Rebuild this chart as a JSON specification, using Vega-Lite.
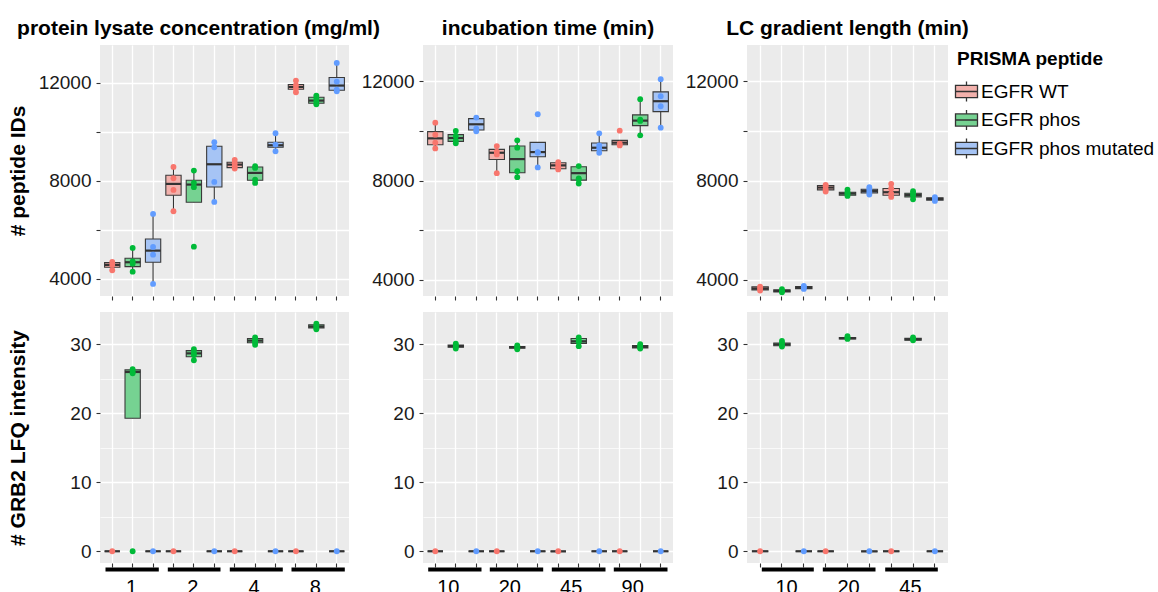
{
  "$schema": "https://vega.github.io/schema/vega-lite/v6.json",
  "padding": {"left": 7, "top": 18, "right": 0, "bottom": 0},
  "background": "white",
  "datasets": {
    "boxes": [
      {"panel":"conc","metric":"ids","group":"1","peptide":"EGFR WT","lower":4340,"q1":4466,"median":4560,"q3":4654,"upper":4683,"pts":[4683,4560,4343]},
      {"panel":"conc","metric":"ids","group":"1","peptide":"EGFR phos","lower":4286,"q1":4491,"median":4670,"q3":4834,"upper":5255,"pts":[5255,4700,4613,4286]},
      {"panel":"conc","metric":"ids","group":"1","peptide":"EGFR phos mutated","lower":3783,"q1":4670,"median":5145,"q3":5623,"upper":6645,"pts":[6645,5296,4981,3783]},
      {"panel":"conc","metric":"ids","group":"2","peptide":"EGFR WT","lower":6755,"q1":7410,"median":7872,"q3":8227,"upper":8566,"pts":[8566,8103,7626,6755]},
      {"panel":"conc","metric":"ids","group":"2","peptide":"EGFR phos","lower":7124,"q1":7124,"median":7845,"q3":8023,"upper":8415,"pts":[8415,7913,7737,5308]},
      {"panel":"conc","metric":"ids","group":"2","peptide":"EGFR phos mutated","lower":7135,"q1":7748,"median":8675,"q3":9411,"upper":9575,"pts":[9575,9370,7953,7135]},
      {"panel":"conc","metric":"ids","group":"4","peptide":"EGFR WT","lower":8498,"q1":8539,"median":8661,"q3":8757,"upper":8852,"pts":[8852,8716,8593,8498]},
      {"panel":"conc","metric":"ids","group":"4","peptide":"EGFR phos","lower":7912,"q1":8021,"median":8321,"q3":8566,"upper":8593,"pts":[8593,8525,8048,7912]},
      {"panel":"conc","metric":"ids","group":"4","peptide":"EGFR phos mutated","lower":9207,"q1":9370,"median":9452,"q3":9575,"upper":9943,"pts":[9943,9480,9207]},
      {"panel":"conc","metric":"ids","group":"8","peptide":"EGFR WT","lower":11619,"q1":11742,"median":11837,"q3":11933,"upper":12096,"pts":[12096,11905,11769,11619]},
      {"panel":"conc","metric":"ids","group":"8","peptide":"EGFR phos","lower":11128,"q1":11169,"median":11278,"q3":11415,"upper":11483,"pts":[11483,11387,11251,11128]},
      {"panel":"conc","metric":"ids","group":"8","peptide":"EGFR phos mutated","lower":11660,"q1":11701,"median":11892,"q3":12219,"upper":12819,"pts":[12819,12055,11728,11660]},

      {"panel":"time","metric":"ids","group":"10","peptide":"EGFR WT","lower":9301,"q1":9450,"median":9706,"q3":9976,"upper":10340,"pts":[10340,9855,9531,9301]},
      {"panel":"time","metric":"ids","group":"10","peptide":"EGFR phos","lower":9504,"q1":9585,"median":9720,"q3":9855,"upper":10003,"pts":[10003,9800,9612,9504]},
      {"panel":"time","metric":"ids","group":"10","peptide":"EGFR phos mutated","lower":9990,"q1":10044,"median":10273,"q3":10502,"upper":10543,"pts":[10543,10098,9990]},
      {"panel":"time","metric":"ids","group":"20","peptide":"EGFR WT","lower":8303,"q1":8856,"median":9126,"q3":9261,"upper":9396,"pts":[9396,9167,9059,8303]},
      {"panel":"time","metric":"ids","group":"20","peptide":"EGFR phos","lower":8141,"q1":8317,"median":8870,"q3":9396,"upper":9625,"pts":[9625,9329,8384,8141]},
      {"panel":"time","metric":"ids","group":"20","peptide":"EGFR phos mutated","lower":8533,"q1":8964,"median":9153,"q3":9544,"upper":9544,"pts":[10678,9153,9126,8533]},
      {"panel":"time","metric":"ids","group":"45","peptide":"EGFR WT","lower":8452,"q1":8479,"median":8614,"q3":8722,"upper":8748,"pts":[8748,8654,8546,8452]},
      {"panel":"time","metric":"ids","group":"45","peptide":"EGFR phos","lower":7885,"q1":8020,"median":8303,"q3":8560,"upper":8587,"pts":[8587,8088,8047,7885]},
      {"panel":"time","metric":"ids","group":"45","peptide":"EGFR phos mutated","lower":9126,"q1":9207,"median":9328,"q3":9517,"upper":9909,"pts":[9909,9423,9301,9126]},
      {"panel":"time","metric":"ids","group":"90","peptide":"EGFR WT","lower":9423,"q1":9450,"median":9531,"q3":9625,"upper":9625,"pts":[10017,9490,9423]},
      {"panel":"time","metric":"ids","group":"90","peptide":"EGFR phos","lower":9828,"q1":10219,"median":10421,"q3":10651,"upper":11285,"pts":[11285,10462,10408,9828]},
      {"panel":"time","metric":"ids","group":"90","peptide":"EGFR phos mutated","lower":10138,"q1":10785,"median":11204,"q3":11581,"upper":12094,"pts":[12094,11406,11001,10138]},

      {"panel":"lc","metric":"ids","group":"10","peptide":"EGFR WT","lower":3568,"q1":3595,"median":3649,"q3":3717,"upper":3730,"pts":[3730,3649,3568]},
      {"panel":"lc","metric":"ids","group":"10","peptide":"EGFR phos","lower":3500,"q1":3514,"median":3555,"q3":3595,"upper":3622,"pts":[3622,3555,3500]},
      {"panel":"lc","metric":"ids","group":"10","peptide":"EGFR phos mutated","lower":3635,"q1":3649,"median":3690,"q3":3730,"upper":3757,"pts":[3757,3703,3635]},
      {"panel":"lc","metric":"ids","group":"20","peptide":"EGFR WT","lower":7561,"q1":7629,"median":7723,"q3":7804,"upper":7831,"pts":[7831,7764,7642,7561]},
      {"panel":"lc","metric":"ids","group":"20","peptide":"EGFR phos","lower":7386,"q1":7413,"median":7480,"q3":7534,"upper":7642,"pts":[7642,7534,7480,7386]},
      {"panel":"lc","metric":"ids","group":"20","peptide":"EGFR phos mutated","lower":7440,"q1":7507,"median":7588,"q3":7656,"upper":7737,"pts":[7737,7642,7548,7440]},
      {"panel":"lc","metric":"ids","group":"45","peptide":"EGFR WT","lower":7345,"q1":7413,"median":7534,"q3":7683,"upper":7683,"pts":[7872,7683,7480,7345]},
      {"panel":"lc","metric":"ids","group":"45","peptide":"EGFR phos","lower":7251,"q1":7345,"median":7426,"q3":7494,"upper":7575,"pts":[7575,7480,7400,7251]},
      {"panel":"lc","metric":"ids","group":"45","peptide":"EGFR phos mutated","lower":7184,"q1":7211,"median":7264,"q3":7305,"upper":7332,"pts":[7332,7264,7184]},

      {"panel":"conc","metric":"lfq","group":"1","peptide":"EGFR WT","lower":0,"q1":0,"median":0,"q3":0,"upper":0,"pts":[0]},
      {"panel":"conc","metric":"lfq","group":"1","peptide":"EGFR phos","lower":19.3,"q1":19.3,"median":26.0,"q3":26.3,"upper":26.4,"pts":[26.4,26.0,25.8,0]},
      {"panel":"conc","metric":"lfq","group":"1","peptide":"EGFR phos mutated","lower":0,"q1":0,"median":0,"q3":0,"upper":0,"pts":[0]},
      {"panel":"conc","metric":"lfq","group":"2","peptide":"EGFR WT","lower":0,"q1":0,"median":0,"q3":0,"upper":0,"pts":[0]},
      {"panel":"conc","metric":"lfq","group":"2","peptide":"EGFR phos","lower":27.7,"q1":28.2,"median":28.7,"q3":29.1,"upper":29.3,"pts":[29.3,28.8,28.45,27.7]},
      {"panel":"conc","metric":"lfq","group":"2","peptide":"EGFR phos mutated","lower":0,"q1":0,"median":0,"q3":0,"upper":0,"pts":[0]},
      {"panel":"conc","metric":"lfq","group":"4","peptide":"EGFR WT","lower":0,"q1":0,"median":0,"q3":0,"upper":0,"pts":[0]},
      {"panel":"conc","metric":"lfq","group":"4","peptide":"EGFR phos","lower":29.95,"q1":30.25,"median":30.55,"q3":30.85,"upper":31.0,"pts":[31.0,30.6,30.3,29.95]},
      {"panel":"conc","metric":"lfq","group":"4","peptide":"EGFR phos mutated","lower":0,"q1":0,"median":0,"q3":0,"upper":0,"pts":[0]},
      {"panel":"conc","metric":"lfq","group":"8","peptide":"EGFR WT","lower":0,"q1":0,"median":0,"q3":0,"upper":0,"pts":[0]},
      {"panel":"conc","metric":"lfq","group":"8","peptide":"EGFR phos","lower":32.2,"q1":32.4,"median":32.6,"q3":32.85,"upper":33.0,"pts":[33.0,32.7,32.45,32.2]},
      {"panel":"conc","metric":"lfq","group":"8","peptide":"EGFR phos mutated","lower":0,"q1":0,"median":0,"q3":0,"upper":0,"pts":[0]},

      {"panel":"time","metric":"lfq","group":"10","peptide":"EGFR WT","lower":0,"q1":0,"median":0,"q3":0,"upper":0,"pts":[0]},
      {"panel":"time","metric":"lfq","group":"10","peptide":"EGFR phos","lower":29.4,"q1":29.6,"median":29.75,"q3":29.9,"upper":30.1,"pts":[30.1,29.9,29.65,29.4]},
      {"panel":"time","metric":"lfq","group":"10","peptide":"EGFR phos mutated","lower":0,"q1":0,"median":0,"q3":0,"upper":0,"pts":[0]},
      {"panel":"time","metric":"lfq","group":"20","peptide":"EGFR WT","lower":0,"q1":0,"median":0,"q3":0,"upper":0,"pts":[0]},
      {"panel":"time","metric":"lfq","group":"20","peptide":"EGFR phos","lower":29.3,"q1":29.45,"median":29.6,"q3":29.7,"upper":29.85,"pts":[29.85,29.65,29.5,29.3]},
      {"panel":"time","metric":"lfq","group":"20","peptide":"EGFR phos mutated","lower":0,"q1":0,"median":0,"q3":0,"upper":0,"pts":[0]},
      {"panel":"time","metric":"lfq","group":"45","peptide":"EGFR WT","lower":0,"q1":0,"median":0,"q3":0,"upper":0,"pts":[0]},
      {"panel":"time","metric":"lfq","group":"45","peptide":"EGFR phos","lower":29.75,"q1":30.15,"median":30.45,"q3":30.85,"upper":31.0,"pts":[31.0,30.6,30.4,29.75]},
      {"panel":"time","metric":"lfq","group":"45","peptide":"EGFR phos mutated","lower":0,"q1":0,"median":0,"q3":0,"upper":0,"pts":[0]},
      {"panel":"time","metric":"lfq","group":"90","peptide":"EGFR WT","lower":0,"q1":0,"median":0,"q3":0,"upper":0,"pts":[0]},
      {"panel":"time","metric":"lfq","group":"90","peptide":"EGFR phos","lower":29.4,"q1":29.5,"median":29.65,"q3":29.85,"upper":30.05,"pts":[30.05,29.8,29.55,29.4]},
      {"panel":"time","metric":"lfq","group":"90","peptide":"EGFR phos mutated","lower":0,"q1":0,"median":0,"q3":0,"upper":0,"pts":[0]},

      {"panel":"lc","metric":"lfq","group":"10","peptide":"EGFR WT","lower":0,"q1":0,"median":0,"q3":0,"upper":0,"pts":[0]},
      {"panel":"lc","metric":"lfq","group":"10","peptide":"EGFR phos","lower":29.7,"q1":29.8,"median":30.0,"q3":30.2,"upper":30.5,"pts":[30.5,30.2,29.9,29.7]},
      {"panel":"lc","metric":"lfq","group":"10","peptide":"EGFR phos mutated","lower":0,"q1":0,"median":0,"q3":0,"upper":0,"pts":[0]},
      {"panel":"lc","metric":"lfq","group":"20","peptide":"EGFR WT","lower":0,"q1":0,"median":0,"q3":0,"upper":0,"pts":[0]},
      {"panel":"lc","metric":"lfq","group":"20","peptide":"EGFR phos","lower":30.8,"q1":30.8,"median":30.9,"q3":31.0,"upper":31.2,"pts":[31.2,30.95,30.8]},
      {"panel":"lc","metric":"lfq","group":"20","peptide":"EGFR phos mutated","lower":0,"q1":0,"median":0,"q3":0,"upper":0,"pts":[0]},
      {"panel":"lc","metric":"lfq","group":"45","peptide":"EGFR WT","lower":0,"q1":0,"median":0,"q3":0,"upper":0,"pts":[0]},
      {"panel":"lc","metric":"lfq","group":"45","peptide":"EGFR phos","lower":30.6,"q1":30.6,"median":30.75,"q3":30.9,"upper":31.0,"pts":[31.0,30.8,30.6]},
      {"panel":"lc","metric":"lfq","group":"45","peptide":"EGFR phos mutated","lower":0,"q1":0,"median":0,"q3":0,"upper":0,"pts":[0]}
    ]
  },
  "columns": 3,
  "bounds": "flush",
  "spacing": {"row": 16, "column": 74},
  "concat": [
    {
      "width": 249, "height": 251,
      "title": {"text": "protein lysate concentration (mg/ml)", "dx": -26},
      "data": {"name": "boxes"},
      "transform": [{"filter": "datum.panel === 'conc' && datum.metric === 'ids'"}, {"calculate": "datum.group + ' ' + datum.peptide", "as": "slot"}],
      "layer": [
        {"mark": {"type": "rule", "color": "#333333", "strokeWidth": 1.1},
         "encoding": {
           "x": {"field": "slot", "type": "nominal", "title": null, "scale": {"type": "band", "paddingInner": 0.25, "paddingOuter": 0.225}, "axis": {"labels": false, "ticks": true, "domain": false, "grid": true, "bandPosition": 0.5, "gridWidth": 1.3}},
           "y": {"field": "lower", "type": "quantitative", "title": "# peptide IDs", "scale": {"domain": [3290, 13550], "nice": false, "zero": false},
                 "axis": {"values": [4000,5000,6000,7000,8000,9000,10000,11000,12000,13000], "format": "d", "titlePadding": 10,
                          "labelExpr": "datum.value % 4000 === 0 ? datum.label : ''",
                          "tickOpacity": {"condition": {"test": "datum.value % 2000 === 0", "value": 1}, "value": 0},
                          "gridWidth": {"condition": {"test": "datum.value % 2000 === 0", "value": 1.3}, "value": 0.7}}},
           "y2": {"field": "upper"}}},
        {"mark": {"type": "bar", "stroke": "#3a3a3a", "strokeWidth": 1.1, "strokeOpacity": 1},
         "encoding": {
           "x": {"field": "slot", "type": "nominal", "title": null, "scale": {"type": "band", "paddingInner": 0.25, "paddingOuter": 0.225}},
           "y": {"field": "q1", "type": "quantitative", "title": "# peptide IDs"}, "y2": {"field": "q3"},
           "fill": {"field": "peptide", "type": "nominal", "scale": {"domain": ["EGFR WT","EGFR phos","EGFR phos mutated"], "range": ["#F2B1AC","#76D292","#A6C4F5"]},
                    "legend": {"title": "PRISMA peptide", "orient": "none", "legendX": 857, "legendY": 5, "symbolType": "M-0.8,-0.44H0.8V0.44H-0.8Z M-0.8,0H0.8 M0,-0.44V-0.73 M0,0.44V0.73", "symbolSize": 756, "symbolStrokeColor": "#333333", "symbolStrokeWidth": 1.3, "symbolOpacity": 1, "symbolOffset": -5, "labelOffset": 0, "labelLimit": 400}}}},
        {"mark": {"type": "tick", "color": "#333333", "thickness": 2.2, "size": 15.3, "opacity": 1},
         "encoding": {
           "x": {"field": "slot", "type": "nominal", "title": null, "scale": {"type": "band", "paddingInner": 0.25, "paddingOuter": 0.225}},
           "y": {"field": "median", "type": "quantitative", "title": "# peptide IDs"}}},
        {"transform": [{"flatten": ["pts"], "as": ["value"]}],
         "mark": {"type": "circle", "size": 34, "opacity": 1},
         "encoding": {
           "x": {"field": "slot", "type": "nominal", "title": null, "scale": {"type": "band", "paddingInner": 0.25, "paddingOuter": 0.225}},
           "y": {"field": "value", "type": "quantitative", "title": "# peptide IDs"},
           "color": {"field": "peptide", "type": "nominal", "scale": {"domain": ["EGFR WT","EGFR phos","EGFR phos mutated"], "range": ["#F8766D","#00BA38","#619CFF"]},
                     "legend": {"title": "PRISMA peptide", "orient": "none", "legendX": 857, "legendY": 5, "symbolType": "M-0.8,-0.44H0.8V0.44H-0.8Z M-0.8,0H0.8 M0,-0.44V-0.73 M0,0.44V0.73", "symbolSize": 756, "symbolStrokeColor": "#333333", "symbolStrokeWidth": 1.3, "symbolOpacity": 1, "symbolOffset": -5, "labelOffset": 0, "labelLimit": 400}}}}
      ]
    },
    {
      "width": 250, "height": 251,
      "title": {"text": "incubation time (min)"},
      "data": {"name": "boxes"},
      "transform": [{"filter": "datum.panel === 'time' && datum.metric === 'ids'"}, {"calculate": "datum.group + ' ' + datum.peptide", "as": "slot"}],
      "layer": [
        {"mark": {"type": "rule", "color": "#333333", "strokeWidth": 1.1},
         "encoding": {
           "x": {"field": "slot", "type": "nominal", "title": null, "scale": {"type": "band", "paddingInner": 0.25, "paddingOuter": 0.225}, "axis": {"labels": false, "ticks": true, "domain": false, "grid": true, "bandPosition": 0.5, "gridWidth": 1.3}},
           "y": {"field": "lower", "type": "quantitative", "title": null, "scale": {"domain": [3350, 13470], "nice": false, "zero": false},
                 "axis": {"values": [4000,5000,6000,7000,8000,9000,10000,11000,12000,13000], "format": "d",
                          "labelExpr": "datum.value % 4000 === 0 ? datum.label : ''",
                          "tickOpacity": {"condition": {"test": "datum.value % 2000 === 0", "value": 1}, "value": 0},
                          "gridWidth": {"condition": {"test": "datum.value % 2000 === 0", "value": 1.3}, "value": 0.7}}},
           "y2": {"field": "upper"}}},
        {"mark": {"type": "bar", "stroke": "#3a3a3a", "strokeWidth": 1.1, "strokeOpacity": 1},
         "encoding": {
           "x": {"field": "slot", "type": "nominal", "title": null, "scale": {"type": "band", "paddingInner": 0.25, "paddingOuter": 0.225}},
           "y": {"field": "q1", "type": "quantitative", "title": null}, "y2": {"field": "q3"},
           "fill": {"field": "peptide", "type": "nominal", "scale": {"domain": ["EGFR WT","EGFR phos","EGFR phos mutated"], "range": ["#F2B1AC","#76D292","#A6C4F5"]},
                    "legend": {"title": "PRISMA peptide", "orient": "none", "legendX": 857, "legendY": 5, "symbolType": "M-0.8,-0.44H0.8V0.44H-0.8Z M-0.8,0H0.8 M0,-0.44V-0.73 M0,0.44V0.73", "symbolSize": 756, "symbolStrokeColor": "#333333", "symbolStrokeWidth": 1.3, "symbolOpacity": 1, "symbolOffset": -5, "labelOffset": 0, "labelLimit": 400}}}},
        {"mark": {"type": "tick", "color": "#333333", "thickness": 2.2, "size": 15.4, "opacity": 1},
         "encoding": {
           "x": {"field": "slot", "type": "nominal", "title": null, "scale": {"type": "band", "paddingInner": 0.25, "paddingOuter": 0.225}},
           "y": {"field": "median", "type": "quantitative", "title": null}}},
        {"transform": [{"flatten": ["pts"], "as": ["value"]}],
         "mark": {"type": "circle", "size": 34, "opacity": 1},
         "encoding": {
           "x": {"field": "slot", "type": "nominal", "title": null, "scale": {"type": "band", "paddingInner": 0.25, "paddingOuter": 0.225}},
           "y": {"field": "value", "type": "quantitative", "title": null},
           "color": {"field": "peptide", "type": "nominal", "scale": {"domain": ["EGFR WT","EGFR phos","EGFR phos mutated"], "range": ["#F8766D","#00BA38","#619CFF"]},
                     "legend": {"title": "PRISMA peptide", "orient": "none", "legendX": 857, "legendY": 5, "symbolType": "M-0.8,-0.44H0.8V0.44H-0.8Z M-0.8,0H0.8 M0,-0.44V-0.73 M0,0.44V0.73", "symbolSize": 756, "symbolStrokeColor": "#333333", "symbolStrokeWidth": 1.3, "symbolOpacity": 1, "symbolOffset": -5, "labelOffset": 0, "labelLimit": 400}}}}
      ]
    },
    {
      "width": 201, "height": 251,
      "title": {"text": "LC gradient length (min)"},
      "data": {"name": "boxes"},
      "transform": [{"filter": "datum.panel === 'lc' && datum.metric === 'ids'"}, {"calculate": "datum.group + ' ' + datum.peptide", "as": "slot"}],
      "layer": [
        {"mark": {"type": "rule", "color": "#333333", "strokeWidth": 1.1},
         "encoding": {
           "x": {"field": "slot", "type": "nominal", "title": null, "scale": {"type": "band", "paddingInner": 0.25, "paddingOuter": 0.225}, "axis": {"labels": false, "ticks": true, "domain": false, "grid": true, "bandPosition": 0.5, "gridWidth": 1.3}},
           "y": {"field": "lower", "type": "quantitative", "title": null, "scale": {"domain": [3350, 13470], "nice": false, "zero": false},
                 "axis": {"values": [4000,5000,6000,7000,8000,9000,10000,11000,12000,13000], "format": "d",
                          "labelExpr": "datum.value % 4000 === 0 ? datum.label : ''",
                          "tickOpacity": {"condition": {"test": "datum.value % 2000 === 0", "value": 1}, "value": 0},
                          "gridWidth": {"condition": {"test": "datum.value % 2000 === 0", "value": 1.3}, "value": 0.7}}},
           "y2": {"field": "upper"}}},
        {"mark": {"type": "bar", "stroke": "#3a3a3a", "strokeWidth": 1.1, "strokeOpacity": 1},
         "encoding": {
           "x": {"field": "slot", "type": "nominal", "title": null, "scale": {"type": "band", "paddingInner": 0.25, "paddingOuter": 0.225}},
           "y": {"field": "q1", "type": "quantitative", "title": null}, "y2": {"field": "q3"},
           "fill": {"field": "peptide", "type": "nominal", "scale": {"domain": ["EGFR WT","EGFR phos","EGFR phos mutated"], "range": ["#F2B1AC","#76D292","#A6C4F5"]},
                    "legend": {"title": "PRISMA peptide", "orient": "none", "legendX": 857, "legendY": 5, "symbolType": "M-0.8,-0.44H0.8V0.44H-0.8Z M-0.8,0H0.8 M0,-0.44V-0.73 M0,0.44V0.73", "symbolSize": 756, "symbolStrokeColor": "#333333", "symbolStrokeWidth": 1.3, "symbolOpacity": 1, "symbolOffset": -5, "labelOffset": 0, "labelLimit": 400}}}},
        {"mark": {"type": "tick", "color": "#333333", "thickness": 2.2, "size": 16.4, "opacity": 1},
         "encoding": {
           "x": {"field": "slot", "type": "nominal", "title": null, "scale": {"type": "band", "paddingInner": 0.25, "paddingOuter": 0.225}},
           "y": {"field": "median", "type": "quantitative", "title": null}}},
        {"transform": [{"flatten": ["pts"], "as": ["value"]}],
         "mark": {"type": "circle", "size": 34, "opacity": 1},
         "encoding": {
           "x": {"field": "slot", "type": "nominal", "title": null, "scale": {"type": "band", "paddingInner": 0.25, "paddingOuter": 0.225}},
           "y": {"field": "value", "type": "quantitative", "title": null},
           "color": {"field": "peptide", "type": "nominal", "scale": {"domain": ["EGFR WT","EGFR phos","EGFR phos mutated"], "range": ["#F8766D","#00BA38","#619CFF"]},
                     "legend": {"title": "PRISMA peptide", "orient": "none", "legendX": 857, "legendY": 5, "symbolType": "M-0.8,-0.44H0.8V0.44H-0.8Z M-0.8,0H0.8 M0,-0.44V-0.73 M0,0.44V0.73", "symbolSize": 756, "symbolStrokeColor": "#333333", "symbolStrokeWidth": 1.3, "symbolOpacity": 1, "symbolOffset": -5, "labelOffset": 0, "labelLimit": 400}}}}
      ]
    },
    {
      "width": 249, "height": 251,
      "data": {"name": "boxes"},
      "transform": [{"filter": "datum.panel === 'conc' && datum.metric === 'lfq'"}, {"calculate": "datum.group + ' ' + datum.peptide", "as": "slot"}],
      "layer": [
        {"layer": [
          {"mark": {"type": "rule", "color": "#333333", "strokeWidth": 1.1},
           "encoding": {
             "x": {"field": "slot", "type": "nominal", "title": null, "scale": {"type": "band", "paddingInner": 0.25, "paddingOuter": 0.225}, "axis": {"labels": false, "ticks": true, "domain": false, "grid": true, "bandPosition": 0.5, "gridWidth": 1.3}},
             "y": {"field": "lower", "type": "quantitative", "title": "# GRB2 LFQ intensity", "scale": {"domain": [-1.7, 34.7], "nice": false, "zero": false},
                   "axis": {"values": [0,5,10,15,20,25,30], "titlePadding": 41.7,
                            "labelExpr": "datum.value % 10 === 0 ? datum.label : ''",
                            "tickOpacity": {"condition": {"test": "datum.value % 10 === 0", "value": 1}, "value": 0},
                            "gridWidth": {"condition": {"test": "datum.value % 10 === 0", "value": 1.3}, "value": 0.7}}},
             "y2": {"field": "upper"}}},
          {"mark": {"type": "bar", "stroke": "#3a3a3a", "strokeWidth": 1.1, "strokeOpacity": 1},
           "encoding": {
             "x": {"field": "slot", "type": "nominal", "title": null, "scale": {"type": "band", "paddingInner": 0.25, "paddingOuter": 0.225}},
             "y": {"field": "q1", "type": "quantitative", "title": "# GRB2 LFQ intensity"}, "y2": {"field": "q3"},
             "fill": {"field": "peptide", "type": "nominal", "scale": {"domain": ["EGFR WT","EGFR phos","EGFR phos mutated"], "range": ["#F2B1AC","#76D292","#A6C4F5"]},
                      "legend": {"title": "PRISMA peptide", "orient": "none", "legendX": 857, "legendY": 5, "symbolType": "M-0.8,-0.44H0.8V0.44H-0.8Z M-0.8,0H0.8 M0,-0.44V-0.73 M0,0.44V0.73", "symbolSize": 756, "symbolStrokeColor": "#333333", "symbolStrokeWidth": 1.3, "symbolOpacity": 1, "symbolOffset": -5, "labelOffset": 0, "labelLimit": 400}}}},
          {"mark": {"type": "tick", "color": "#333333", "thickness": 2.2, "size": 15.3, "opacity": 1},
           "encoding": {
             "x": {"field": "slot", "type": "nominal", "title": null, "scale": {"type": "band", "paddingInner": 0.25, "paddingOuter": 0.225}},
             "y": {"field": "median", "type": "quantitative", "title": "# GRB2 LFQ intensity"}}},
          {"transform": [{"flatten": ["pts"], "as": ["value"]}],
           "mark": {"type": "circle", "size": 34, "opacity": 1},
           "encoding": {
             "x": {"field": "slot", "type": "nominal", "title": null, "scale": {"type": "band", "paddingInner": 0.25, "paddingOuter": 0.225}},
             "y": {"field": "value", "type": "quantitative", "title": "# GRB2 LFQ intensity"},
             "color": {"field": "peptide", "type": "nominal", "scale": {"domain": ["EGFR WT","EGFR phos","EGFR phos mutated"], "range": ["#F8766D","#00BA38","#619CFF"]},
                       "legend": {"title": "PRISMA peptide", "orient": "none", "legendX": 857, "legendY": 5, "symbolType": "M-0.8,-0.44H0.8V0.44H-0.8Z M-0.8,0H0.8 M0,-0.44V-0.73 M0,0.44V0.73", "symbolSize": 756, "symbolStrokeColor": "#333333", "symbolStrokeWidth": 1.3, "symbolOpacity": 1, "symbolOffset": -5, "labelOffset": 0, "labelLimit": 400}}}}
        ]},
        {"mark": {"type": "point", "opacity": 0},
         "encoding": {
           "x": {"field": "group", "type": "nominal", "title": null, "scale": {"type": "band", "paddingInner": 0, "paddingOuter": 0.0333},
                 "axis": {"orient": "bottom", "offset": 6, "domain": true, "domainColor": "black", "domainWidth": 4, "domainCap": "butt", "domainDash": [0, 5, 53.3, 9, 52.7, 9.3, 53, 8.7, 53.3, 30], "domainDashOffset": 0,
                          "ticks": false, "tickSize": 0, "grid": false, "labelAngle": 0, "labelFontSize": 20, "labelColor": "black", "labelPadding": 8, "labelOffset": -1}}}}
      ],
      "resolve": {"scale": {"x": "independent"}}
    },
    {
      "width": 250, "height": 251,
      "data": {"name": "boxes"},
      "transform": [{"filter": "datum.panel === 'time' && datum.metric === 'lfq'"}, {"calculate": "datum.group + ' ' + datum.peptide", "as": "slot"}],
      "layer": [
        {"layer": [
          {"mark": {"type": "rule", "color": "#333333", "strokeWidth": 1.1},
           "encoding": {
             "x": {"field": "slot", "type": "nominal", "title": null, "scale": {"type": "band", "paddingInner": 0.25, "paddingOuter": 0.225}, "axis": {"labels": false, "ticks": true, "domain": false, "grid": true, "bandPosition": 0.5, "gridWidth": 1.3}},
             "y": {"field": "lower", "type": "quantitative", "title": null, "scale": {"domain": [-1.7, 34.7], "nice": false, "zero": false},
                   "axis": {"values": [0,5,10,15,20,25,30],
                            "labelExpr": "datum.value % 10 === 0 ? datum.label : ''",
                            "tickOpacity": {"condition": {"test": "datum.value % 10 === 0", "value": 1}, "value": 0},
                            "gridWidth": {"condition": {"test": "datum.value % 10 === 0", "value": 1.3}, "value": 0.7}}},
             "y2": {"field": "upper"}}},
          {"mark": {"type": "bar", "stroke": "#3a3a3a", "strokeWidth": 1.1, "strokeOpacity": 1},
           "encoding": {
             "x": {"field": "slot", "type": "nominal", "title": null, "scale": {"type": "band", "paddingInner": 0.25, "paddingOuter": 0.225}},
             "y": {"field": "q1", "type": "quantitative", "title": null}, "y2": {"field": "q3"},
             "fill": {"field": "peptide", "type": "nominal", "scale": {"domain": ["EGFR WT","EGFR phos","EGFR phos mutated"], "range": ["#F2B1AC","#76D292","#A6C4F5"]},
                      "legend": {"title": "PRISMA peptide", "orient": "none", "legendX": 857, "legendY": 5, "symbolType": "M-0.8,-0.44H0.8V0.44H-0.8Z M-0.8,0H0.8 M0,-0.44V-0.73 M0,0.44V0.73", "symbolSize": 756, "symbolStrokeColor": "#333333", "symbolStrokeWidth": 1.3, "symbolOpacity": 1, "symbolOffset": -5, "labelOffset": 0, "labelLimit": 400}}}},
          {"mark": {"type": "tick", "color": "#333333", "thickness": 2.2, "size": 15.4, "opacity": 1},
           "encoding": {
             "x": {"field": "slot", "type": "nominal", "title": null, "scale": {"type": "band", "paddingInner": 0.25, "paddingOuter": 0.225}},
             "y": {"field": "median", "type": "quantitative", "title": null}}},
          {"transform": [{"flatten": ["pts"], "as": ["value"]}],
           "mark": {"type": "circle", "size": 34, "opacity": 1},
           "encoding": {
             "x": {"field": "slot", "type": "nominal", "title": null, "scale": {"type": "band", "paddingInner": 0.25, "paddingOuter": 0.225}},
             "y": {"field": "value", "type": "quantitative", "title": null},
             "color": {"field": "peptide", "type": "nominal", "scale": {"domain": ["EGFR WT","EGFR phos","EGFR phos mutated"], "range": ["#F8766D","#00BA38","#619CFF"]},
                       "legend": {"title": "PRISMA peptide", "orient": "none", "legendX": 857, "legendY": 5, "symbolType": "M-0.8,-0.44H0.8V0.44H-0.8Z M-0.8,0H0.8 M0,-0.44V-0.73 M0,0.44V0.73", "symbolSize": 756, "symbolStrokeColor": "#333333", "symbolStrokeWidth": 1.3, "symbolOpacity": 1, "symbolOffset": -5, "labelOffset": 0, "labelLimit": 400}}}}
        ]},
        {"mark": {"type": "point", "opacity": 0},
         "encoding": {
           "x": {"field": "group", "type": "nominal", "title": null, "scale": {"type": "band", "paddingInner": 0, "paddingOuter": 0.0333},
                 "axis": {"orient": "bottom", "offset": 6, "domain": true, "domainColor": "black", "domainWidth": 4, "domainCap": "butt", "domainDash": [0, 4.7, 53.3, 8.3, 53.4, 8.6, 53.7, 8.3, 53.7, 30], "domainDashOffset": 0,
                          "ticks": false, "tickSize": 0, "grid": false, "labelAngle": 0, "labelFontSize": 20, "labelColor": "black", "labelPadding": 8, "labelOffset": -7.5}}}}
      ],
      "resolve": {"scale": {"x": "independent"}}
    },
    {
      "width": 201, "height": 251,
      "data": {"name": "boxes"},
      "transform": [{"filter": "datum.panel === 'lc' && datum.metric === 'lfq'"}, {"calculate": "datum.group + ' ' + datum.peptide", "as": "slot"}],
      "layer": [
        {"layer": [
          {"mark": {"type": "rule", "color": "#333333", "strokeWidth": 1.1},
           "encoding": {
             "x": {"field": "slot", "type": "nominal", "title": null, "scale": {"type": "band", "paddingInner": 0.25, "paddingOuter": 0.225}, "axis": {"labels": false, "ticks": true, "domain": false, "grid": true, "bandPosition": 0.5, "gridWidth": 1.3}},
             "y": {"field": "lower", "type": "quantitative", "title": null, "scale": {"domain": [-1.7, 34.7], "nice": false, "zero": false},
                   "axis": {"values": [0,5,10,15,20,25,30],
                            "labelExpr": "datum.value % 10 === 0 ? datum.label : ''",
                            "tickOpacity": {"condition": {"test": "datum.value % 10 === 0", "value": 1}, "value": 0},
                            "gridWidth": {"condition": {"test": "datum.value % 10 === 0", "value": 1.3}, "value": 0.7}}},
             "y2": {"field": "upper"}}},
          {"mark": {"type": "bar", "stroke": "#3a3a3a", "strokeWidth": 1.1, "strokeOpacity": 1},
           "encoding": {
             "x": {"field": "slot", "type": "nominal", "title": null, "scale": {"type": "band", "paddingInner": 0.25, "paddingOuter": 0.225}},
             "y": {"field": "q1", "type": "quantitative", "title": null}, "y2": {"field": "q3"},
             "fill": {"field": "peptide", "type": "nominal", "scale": {"domain": ["EGFR WT","EGFR phos","EGFR phos mutated"], "range": ["#F2B1AC","#76D292","#A6C4F5"]},
                      "legend": {"title": "PRISMA peptide", "orient": "none", "legendX": 857, "legendY": 5, "symbolType": "M-0.8,-0.44H0.8V0.44H-0.8Z M-0.8,0H0.8 M0,-0.44V-0.73 M0,0.44V0.73", "symbolSize": 756, "symbolStrokeColor": "#333333", "symbolStrokeWidth": 1.3, "symbolOpacity": 1, "symbolOffset": -5, "labelOffset": 0, "labelLimit": 400}}}},
          {"mark": {"type": "tick", "color": "#333333", "thickness": 2.2, "size": 16.4, "opacity": 1},
           "encoding": {
             "x": {"field": "slot", "type": "nominal", "title": null, "scale": {"type": "band", "paddingInner": 0.25, "paddingOuter": 0.225}},
             "y": {"field": "median", "type": "quantitative", "title": null}}},
          {"transform": [{"flatten": ["pts"], "as": ["value"]}],
           "mark": {"type": "circle", "size": 34, "opacity": 1},
           "encoding": {
             "x": {"field": "slot", "type": "nominal", "title": null, "scale": {"type": "band", "paddingInner": 0.25, "paddingOuter": 0.225}},
             "y": {"field": "value", "type": "quantitative", "title": null},
             "color": {"field": "peptide", "type": "nominal", "scale": {"domain": ["EGFR WT","EGFR phos","EGFR phos mutated"], "range": ["#F8766D","#00BA38","#619CFF"]},
                       "legend": {"title": "PRISMA peptide", "orient": "none", "legendX": 857, "legendY": 5, "symbolType": "M-0.8,-0.44H0.8V0.44H-0.8Z M-0.8,0H0.8 M0,-0.44V-0.73 M0,0.44V0.73", "symbolSize": 756, "symbolStrokeColor": "#333333", "symbolStrokeWidth": 1.3, "symbolOpacity": 1, "symbolOffset": -5, "labelOffset": 0, "labelLimit": 400}}}}
        ]},
        {"mark": {"type": "point", "opacity": 0},
         "encoding": {
           "x": {"field": "group", "type": "nominal", "title": null, "scale": {"type": "band", "paddingInner": 0, "paddingOuter": 0.124},
                 "axis": {"orient": "bottom", "offset": 6, "domain": true, "domainColor": "black", "domainWidth": 4, "domainCap": "butt", "domainDash": [0, 14.3, 52, 9, 52.7, 9.7, 52.6, 30], "domainDashOffset": 0,
                          "ticks": false, "tickSize": 0, "grid": false, "labelAngle": 0, "labelFontSize": 20, "labelColor": "black", "labelPadding": 8, "labelOffset": 1}}}}
      ],
      "resolve": {"scale": {"x": "independent"}}
    }
  ],
  "config": {
    "font": "Liberation Sans",
    "view": {"fill": "#EBEBEB", "stroke": null},
    "axis": {"labelFont": "Liberation Sans", "labelFontSize": 19, "labelColor": "#1a1a1a", "tickColor": "#333333", "tickSize": 4, "tickWidth": 1.1, "labelPadding": 5, "domain": false, "gridColor": "white", "titleFont": "Liberation Sans", "titleFontSize": 21, "titleFontWeight": "bold", "titleColor": "black"},
    "title": {"font": "Liberation Sans", "fontSize": 21, "fontWeight": "bold", "color": "black", "anchor": "middle", "offset": 6},
    "legend": {"labelFont": "Liberation Sans", "titleFont": "Liberation Sans", "labelFontSize": 19, "titleFontSize": 19, "labelColor": "black", "titleColor": "black", "titleFontWeight": "bold", "rowPadding": 0.5, "titlePadding": 8, "labelLimit": 400}
  }
}
